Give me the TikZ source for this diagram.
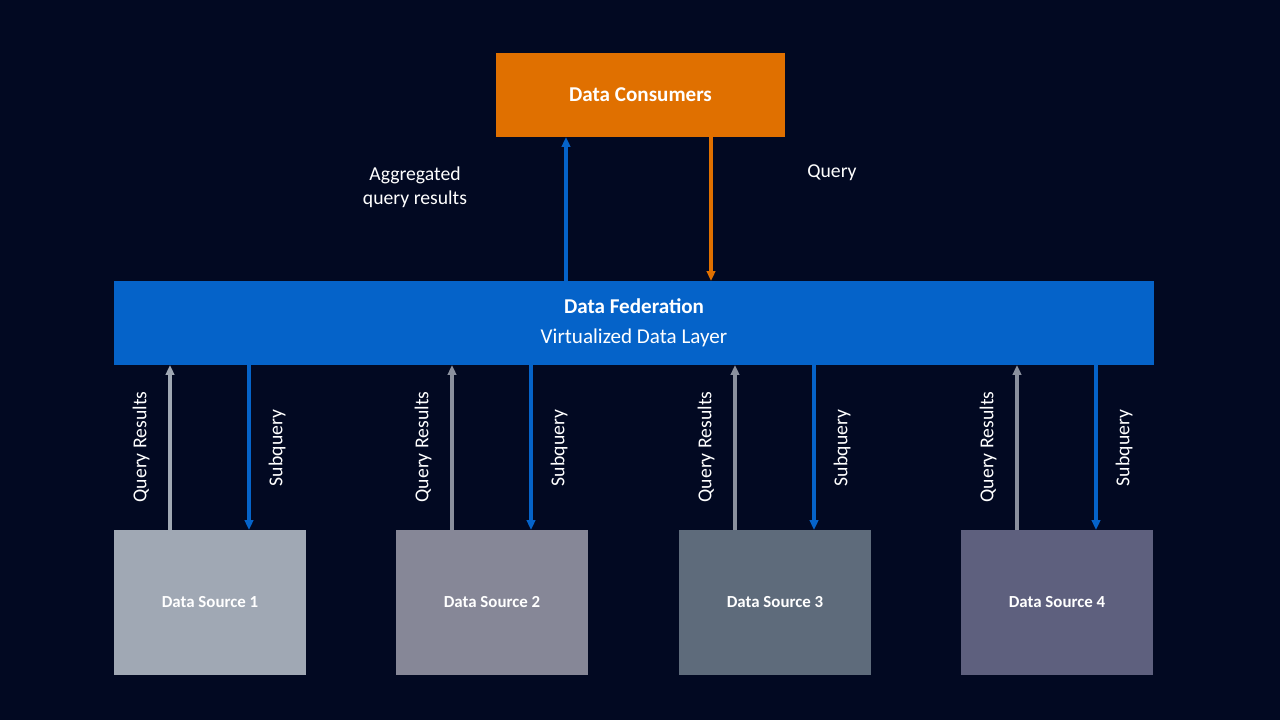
\documentclass[tikz,border=0pt]{standalone}
\usepackage{fontspec}
\setmainfont{Carlito}
\usetikzlibrary{arrows.meta}
\definecolor{fedbg}{HTML}{020922}
\definecolor{fedorange}{HTML}{E07000}
\definecolor{fedblue}{HTML}{0563C9}
\definecolor{fedgray}{HTML}{8A909E}
\definecolor{srcone}{HTML}{A0A8B4}
\definecolor{srctwo}{HTML}{868797}
\definecolor{srcthree}{HTML}{5E6B7B}
\definecolor{srcfour}{HTML}{5E607E}

\begin{document}
\begin{tikzpicture}[x=0.025cm, y=-0.025cm,
    box/.style={rectangle, inner sep=0pt, text=white, align=center},
    lbl/.style={text=white, font=\fontsize{14}{17}\selectfont, align=center},
    flow/.style={-{Triangle[length=7pt, width=6pt]}, line width=2.2pt}]
            % Background
            \fill[fedbg] (0,0) rectangle (1280,720);
            \useasboundingbox (0,0) rectangle (1280,720);

            % Consumers and federation layer
            \node[box, fill=fedorange, minimum width=289*0.025cm, minimum height=84*0.025cm,
                font=\bfseries\fontsize{15}{18}\selectfont] (cons) at (640.5,95) {Data Consumers};
            \node[box, fill=fedblue, minimum width=1040*0.025cm, minimum height=84*0.025cm,
                font=\fontsize{15}{21}\selectfont] (fed) at (634,323)
                {\textbf{Data Federation}\\Virtualized Data Layer};

            \draw[flow, fedblue] (566,281) -- (566,137);
            \draw[flow, fedorange] (711,137) -- (711,281);
            \node[lbl] (agg) at (415,187) {Aggregated\\query results};
            \node[lbl] (qry) at (832,173) {Query};

            % Data sources
            \foreach \i/\x/\c/\u in {1/114/srcone/srcone, 2/396/srctwo/fedgray, 3/679/srcthree/fedgray, 4/961/srcfour/fedgray} {
                \node[box, fill=\c, minimum width=192*0.025cm, minimum height=145*0.025cm,
                    font=\bfseries\fontsize{12}{14}\selectfont] (src\i) at (\x+96,602.5) {Data Source \i};
                \draw[flow, \u] (\x+56,530) -- (\x+56,365);
                \draw[flow, fedblue] (\x+135,365) -- (\x+135,530);
                \node[lbl, rotate=90] (res\i) at (\x+27,447) {Query Results};
                \node[lbl, rotate=90] (sub\i) at (\x+163,448) {Subquery};
            }
        \end{tikzpicture}
\end{document}
